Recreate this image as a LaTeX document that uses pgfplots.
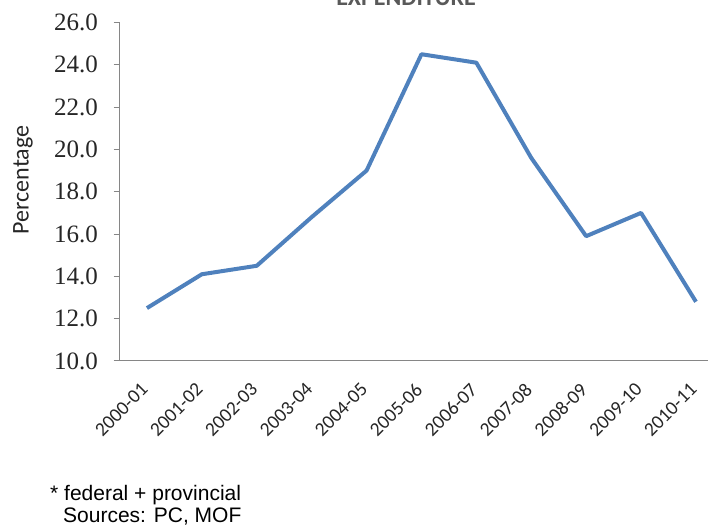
\documentclass[border=0pt]{standalone}
\usepackage{fontspec}
\setmainfont{Liberation Serif}
\newfontfamily\carlito{Carlito}
\newfontfamily\arial{Liberation Sans}
\usepackage{pgfplots}
\pgfplotsset{compat=1.18}
\definecolor{lineblue}{RGB}{79,129,189}
\definecolor{axgray}{RGB}{134,134,134}
\begin{document}
\begin{tikzpicture}[x=1pt,y=1pt]
\useasboundingbox (0,0) rectangle (708,526);
\begin{axis}[
  at={(119.5pt,165pt)}, anchor=south west,
  scale only axis, width=603.9pt, height=338.5pt,
  xmin=-0.5, xmax=10.5, ymin=10, ymax=26,
  axis x line*=bottom, axis y line*=left,
  axis line style={axgray, line width=1pt},
  ytick={10,12,...,26},
  xtick={0,...,10},
  xticklabels={2000-01,2001-02,2002-03,2003-04,2004-05,2005-06,2006-07,2007-08,2008-09,2009-10,2010-11},
  x tick style={draw=none},
  y tick style={axgray, line width=1pt},
  tick align=outside, major tick length=6pt,
  /pgf/number format/.cd, fixed, fixed zerofill, precision=1, assume math mode=true, /pgfplots/.cd,
  yticklabel style={font=\fontsize{25}{25}\selectfont, text=black!85, anchor=east, xshift=-12pt},
  xticklabel style={font=\carlito\fontsize{19.5}{19.5}\selectfont, rotate=45, anchor=east, color=black!85},
  xticklabel shift=17pt,
  clip=false,
]
\addplot[lineblue, line width=4pt, line join=round] coordinates {
(0,12.5) (1,14.1) (2,14.5) (3,16.8) (4,19.0) (5,24.5) (6,24.1) (7,19.6) (8,15.9) (9,17.0) (10,12.8)
};
\end{axis}
\node[rotate=90, font=\carlito\fontsize{24}{24}\selectfont, color=black!85] at (23,346) {Percentage};
\node[anchor=base, font=\carlito\bfseries\fontsize{24}{24}\selectfont, color=black!65] at (406,520) {EXPENDITURE};
\node[anchor=base west, inner sep=0pt, font=\arial\fontsize{21}{21}\selectfont] at (50,25) {* federal + provincial};
\node[anchor=base west, inner sep=0pt, font=\arial\fontsize{21}{21}\selectfont] at (63,3) {Sources: PC, MOF};
\end{tikzpicture}
\end{document}
